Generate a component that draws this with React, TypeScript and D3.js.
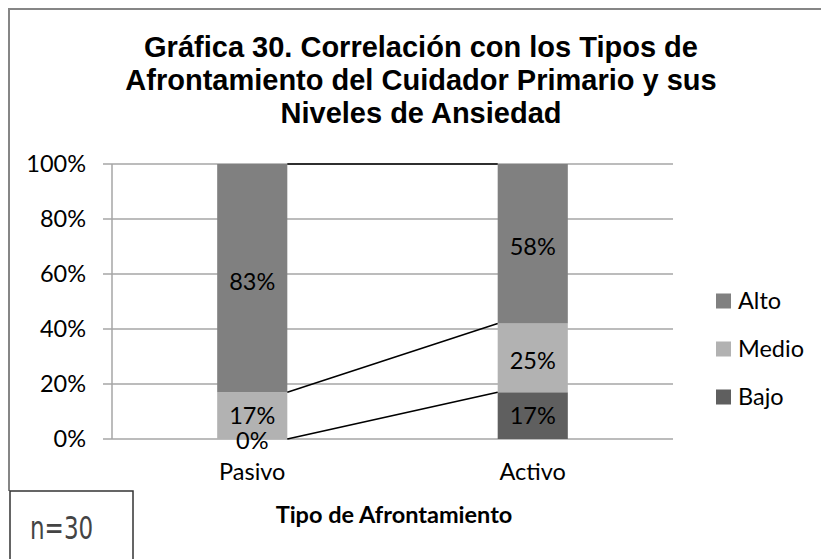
import * as d3 from "d3";
import React from "react";

const categories = ["Pasivo", "Activo"];
const series = ["Bajo", "Medio", "Alto"];
const bajo = [0, 17];
const medio = [17, 25];
const alto = [83, 58];
const yTicks = [0, 20, 40, 60, 80, 100];
const titleLines = [
	"Gráfica 30. Correlación con los Tipos de",
	"Afrontamiento del Cuidador Primario y sus",
	"Niveles de Ansiedad",
];
const xTitle = "Tipo de Afrontamiento";
const nLabel = "n=30";

const colors: Record<string, string> = {
	Bajo: "#5f5f5f",
	Medio: "#b2b2b2",
	Alto: "#808080",
};

export default function App() {
	const width = 821;
	const height = 559;
	const plot = { left: 112, right: 673, top: 164, bottom: 439 };
	const font = "Lato, 'Open Sans', sans-serif";
	const fs = 23.5;

	const rows = categories.map((c, i) => ({
		cat: c,
		Bajo: bajo[i],
		Medio: medio[i],
		Alto: alto[i],
	}));
	const stacked = d3.stack<any>().keys(series)(rows);

	const x = d3
		.scaleBand()
		.domain(categories)
		.range([plot.left, plot.right])
		.paddingInner(0.75)
		.paddingOuter(0.375);
	const y = d3.scaleLinear().domain([0, 100]).range([plot.bottom, plot.top]);
	const bw = x.bandwidth();

	// cumulative top of each series per category, used for the connector lines
	const cum = stacked.map((s) => s.map((d) => d[1]));

	return (
		<svg
			width={width}
			height={height}
			style={{ position: "absolute", left: 0, top: 0, background: "#fff" }}
		>
			{/* outer frame (left + top) */}
			<line x1={9} x2={9} y1={9} y2={491} stroke="#868686" strokeWidth={2} />
			<line x1={8} x2={821} y1={9} y2={9} stroke="#868686" strokeWidth={2} />

			{/* title */}
			{titleLines.map((t, i) => (
				<text
					key={i}
					x={421}
					y={57 + i * 33}
					textAnchor="middle"
					fontFamily="'Liberation Sans', Arial, sans-serif"
					fontWeight="bold"
					fontSize={29}
					fill="#000"
				>
					{t}
				</text>
			))}

			{/* grid */}
			{yTicks.map((t) => (
				<g key={t}>
					<line
						x1={plot.left - 9}
						x2={plot.right}
						y1={y(t)}
						y2={y(t)}
						stroke="#a6a6a6"
						strokeWidth={1.5}
					/>
					<text
						x={86}
						y={y(t)}
						dy="0.36em"
						textAnchor="end"
						fontFamily={font}
						fontSize={fs}
						fill="#000"
					>
						{t}%
					</text>
				</g>
			))}
			<line
				x1={plot.left}
				x2={plot.left}
				y1={plot.top}
				y2={plot.bottom}
				stroke="#a6a6a6"
				strokeWidth={1.5}
			/>

			{/* bars */}
			{stacked.map((s) =>
				s.map((d, i) => (
					<rect
						key={s.key + i}
						x={x(categories[i])}
						y={y(d[1])}
						width={bw}
						height={y(d[0]) - y(d[1])}
						fill={colors[s.key]}
					/>
				)),
			)}

			{/* series lines between stacks */}
			{cum.map((c, k) => (
				<line
					key={k}
					x1={(x(categories[0]) as number) + bw}
					y1={y(c[0])}
					x2={x(categories[1])}
					y2={y(c[1])}
					stroke="#000"
					strokeWidth={1.5}
				/>
			))}

			{/* value labels */}
			{stacked.map((s) =>
				s.map((d, i) => {
					const v = d[1] - d[0];
					// zero-height segment label sits just under the baseline like the original
					const yy = v === 0 ? y(d[0]) + 2 : y((d[0] + d[1]) / 2) + (v < 20 ? 0 : 3);
					return (
						<text
							key={"l" + s.key + i}
							x={(x(categories[i]) as number) + bw / 2}
							y={yy}
							dy="0.36em"
							textAnchor="middle"
							fontFamily={font}
							fontSize={fs}
							fill="#000"
						>
							{v}%
						</text>
					);
				}),
			)}

			{/* category labels */}
			{categories.map((c) => (
				<text
					key={c}
					x={(x(c) as number) + bw / 2}
					y={480}
					textAnchor="middle"
					fontFamily={font}
					fontSize={fs}
					fill="#000"
				>
					{c}
				</text>
			))}

			<text
				x={394}
				y={523}
				textAnchor="middle"
				fontFamily={font}
				fontWeight="bold"
				fontSize={23.5}
				fill="#000"
			>
				{xTitle}
			</text>

			{/* legend */}
			{["Alto", "Medio", "Bajo"].map((k, i) => (
				<g key={k} transform={`translate(716, ${301 + i * 48})`}>
					<rect x={0} y={-7.5} width={15} height={15} fill={colors[k]} />
					<text
						x={22}
						y={0}
						dy="0.36em"
						fontFamily={font}
						fontSize={fs}
						fill="#000"
					>
						{k}
					</text>
				</g>
			))}

			{/* n box */}
			<rect
				x={10}
				y={491}
				width={123}
				height={70}
				fill="#fff"
				stroke="#333"
				strokeWidth={1.5}
			/>
			<text
				x={30}
				y={539}
				fontFamily="'Liberation Sans Narrow', 'DejaVu Sans Condensed', sans-serif"
				fontWeight={300}
				fontSize={32}
				fill="#444"
				transform="translate(30,0) scale(0.8,1) translate(-30,0)"
			>
				{nLabel}
			</text>
		</svg>
	);
}
